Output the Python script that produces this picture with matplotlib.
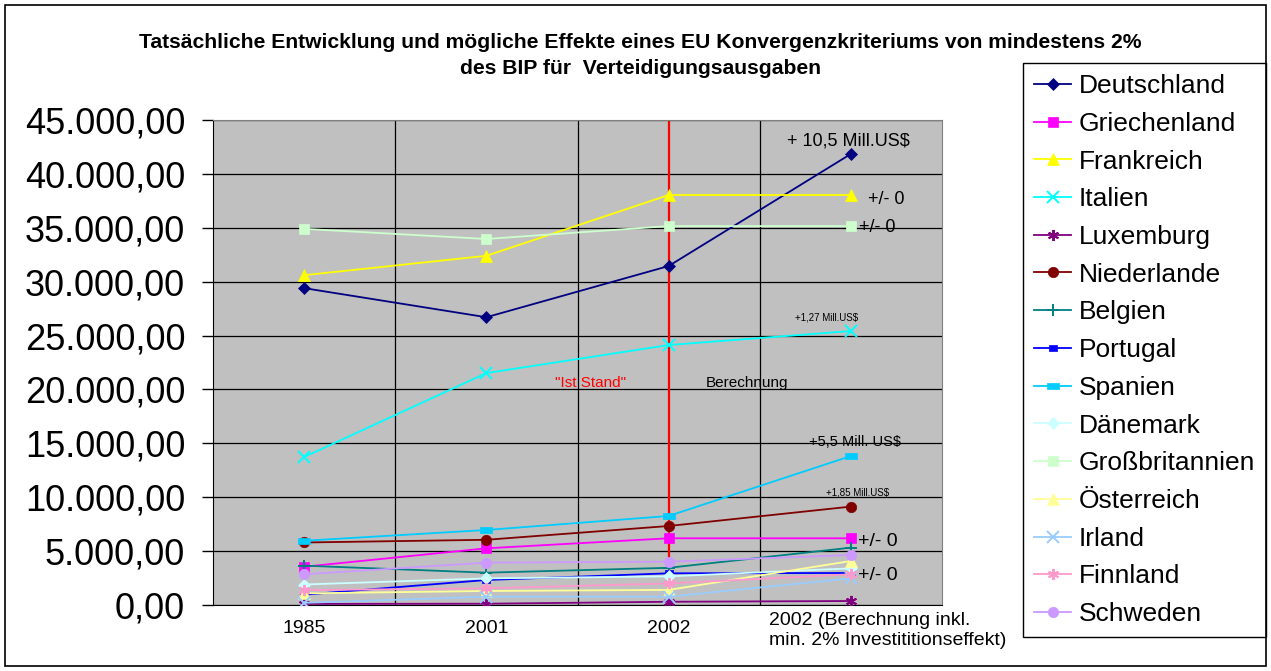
import numpy as np
import matplotlib.pyplot as plt
from matplotlib.ticker import FuncFormatter, FixedLocator
from matplotlib.patches import Rectangle
import matplotlib.transforms as mtransforms

plt.rcParams['font.family'] = ['Liberation Sans', 'DejaVu Sans']

categories = ['1985', '2001', '2002', '2002 (Berechnung inkl.\nmin. 2% Investititionseffekt)']

countries = ['Deutschland', 'Griechenland', 'Frankreich', 'Italien', 'Luxemburg',
             'Niederlande', 'Belgien', 'Portugal', 'Spanien', 'Dänemark',
             'Großbritannien', 'Österreich', 'Irland', 'Finnland', 'Schweden']

deutschland = [29400, 26700, 31450, 41850]
griechenland = [3550, 5260, 6190, 6190]
frankreich = [30600, 32400, 38040, 38040]
italien = [13730, 21520, 24120, 25420]
luxemburg = [100, 120, 300, 370]
niederlande = [5800, 6050, 7330, 9130]
belgien = [3650, 3000, 3450, 5320]
portugal = [960, 2320, 2940, 2970]
spanien = [5960, 6960, 8260, 13820]
daenemark = [1900, 2470, 2660, 3400]
grossbritannien = [34900, 33960, 35160, 35160]
oesterreich = [1080, 1300, 1400, 4080]
irland = [200, 770, 770, 2470]
finnland = [1380, 1550, 2000, 2850]
schweden = [2850, 3930, 4020, 4640]

values = [deutschland, griechenland, frankreich, italien, luxemburg,
          niederlande, belgien, portugal, spanien, daenemark,
          grossbritannien, oesterreich, irland, finnland, schweden]

colors = ['#000080', '#FF00FF', '#FFFF00', '#00FFFF', '#800080',
          '#800000', '#008080', '#0000FF', '#00CCFF', '#CCFFFF',
          '#CCFFCC', '#FFFF99', '#99CCFF', '#FF99CC', '#CC99FF']

rect_wide = [(-1, -0.45), (1, -0.45), (1, 0.45), (-1, 0.45), (-1, -0.45)]
rect_small = [(-1, -0.7), (1, -0.7), (1, 0.7), (-1, 0.7), (-1, -0.7)]
markers = ['D', 's', '^', 'x', (6, 2, 0),
           'o', '+', rect_small, rect_wide, 'D',
           's', '^', 'x', (6, 2, 0), 'o']
msizes = [6.5, 7.5, 8, 8, 8, 7.5, 8, 5.5, 8.5, 6.5, 7.5, 8, 8, 8, 7.5]

fig = plt.figure(figsize=(12.71, 6.71), dpi=100)
ax = fig.add_axes([213/1271, 1 - 605/671, 729/1271, 485/671])
ax.set_facecolor('#C0C0C0')

x = np.arange(len(categories))
for name, vals, c, m, ms in zip(countries, values, colors, markers, msizes):
    ax.plot(x, vals, color=c, marker=m, markersize=ms, linewidth=1.3,
            markeredgewidth=1.4 if m in ('x', '+') or isinstance(m, tuple) else 0.5,
            markeredgecolor=c, label=name, zorder=3)

ax.set_xlim(-0.5, 3.5)
ax.set_ylim(0, 45000)
ax.yaxis.set_major_locator(FixedLocator(np.arange(0, 45001, 5000)))
ax.yaxis.set_major_formatter(FuncFormatter(
    lambda v, p: f"{v:,.2f}".replace(',', 'X').replace('.', ',').replace('X', '.')))
ax.tick_params(axis='y', labelsize=26, length=8, width=1, pad=12, direction='out')
ax.set_xticks(x)
ax.set_xticklabels(categories)
ax.tick_params(axis='x', labelsize=14, length=0, pad=10.5)
ax.xaxis.set_minor_locator(FixedLocator([0.5, 1.5, 2.5]))
ax.tick_params(axis='x', which='minor', length=0)
ax.grid(axis='y', which='major', color='black', linewidth=0.9)
ax.grid(axis='x', which='minor', color='black', linewidth=0.9)
ax.grid(axis='x', which='major', visible=False)
ax.set_axisbelow(True)

last = ax.get_xticklabels()[-1]
last.set_horizontalalignment('left')
last.set_verticalalignment('top')
last.set_transform(last.get_transform() +
                   mtransforms.ScaledTranslation(-0.82, 0.075, fig.dpi_scale_trans))

for s in ['top', 'right']:
    ax.spines[s].set_color('#808080')
for s in ['left', 'bottom']:
    ax.spines[s].set_color('black')

ax.axvline(2, color='#FF0000', linewidth=1.6, zorder=2)

ax.text(2.985, 43050, '+ 10,5 Mill.US$', fontsize=13, ha='center', va='center')
ax.text(3.095, 37670, '+/- 0', fontsize=13, ha='left', va='center')
ax.text(3.045, 35070, '+/- 0', fontsize=13, ha='left', va='center')
ax.text(2.864, 26630, '+1,27 Mill.US$', fontsize=7, ha='center', va='center')
ax.text(3.023, 15120, '+5,5 Mill. US$', fontsize=10.5, ha='center', va='center')
ax.text(3.035, 10480, '+1,85 Mill.US$', fontsize=7, ha='center', va='center')
ax.text(3.04, 5850, '+/- 0', fontsize=14, ha='left', va='center')
ax.text(3.04, 2780, '+/- 0', fontsize=14, ha='left', va='center')
ax.text(1.57, 20600, '"Ist Stand"', fontsize=11, color='#FF0000', ha='center', va='center')
ax.text(2.206, 20600, 'Berechnung', fontsize=11, ha='left', va='center')

fig.text(0.504, 1 - 42/671,
         'Tatsächliche Entwicklung und mögliche Effekte eines EU Konvergenzkriteriums von mindestens 2%',
         fontsize=15.2, fontweight='bold', ha='center', va='center')
fig.text(0.504, 1 - 68/671, 'des BIP für  Verteidigungsausgaben',
         fontsize=15.2, fontweight='bold', ha='center', va='center')

leg = ax.legend(loc='upper left', bbox_to_anchor=(1023/1271, 1 - 63/671),
                bbox_transform=fig.transFigure, borderaxespad=0, fontsize=19,
                frameon=True, fancybox=False, edgecolor='black', framealpha=1,
                labelspacing=0.52, handlelength=1.4, handletextpad=0.3, borderpad=0.42)
leg.get_frame().set_linewidth(1.0)

fig.patches.append(Rectangle((5/1271, 5/671), 1261/1271, 661/671, transform=fig.transFigure,
                             fill=False, edgecolor='black', linewidth=1.2))

fig.savefig('out.png', dpi=100)
